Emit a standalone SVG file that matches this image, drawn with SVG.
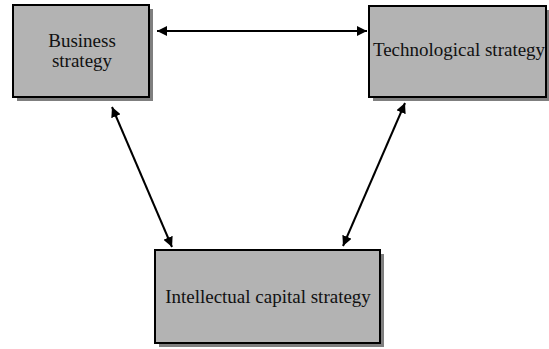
<svg xmlns="http://www.w3.org/2000/svg" width="549" height="349" viewBox="0 0 549 349">
<style>
.shadow{fill:#7f7f7f;stroke:none}
.box{fill:#b3b3b3;stroke:#000;stroke-width:2}
.lbl{font-family:"Liberation Serif","Times New Roman",serif;font-size:19px;fill:#111;text-anchor:middle}
.conn{stroke:#000;stroke-width:2;fill:none;marker-start:url(#ah);marker-end:url(#ah)}
</style>
<defs>
<marker id="ah" viewBox="0 0 10 10" refX="10" refY="5" markerWidth="5" markerHeight="5" orient="auto-start-reverse" markerUnits="strokeWidth">
<path d="M0,0 L10,5 L0,10 z" fill="#000"/>
</marker>
</defs>
<rect width="549" height="349" fill="#fff"/>
<g id="business">
<rect class="shadow" x="17" y="9" width="136" height="92"/>
<rect class="box" x="13" y="5" width="136" height="92"/>
<text class="lbl" x="82" y="47">Business</text>
<text class="lbl" x="82" y="67">strategy</text>
</g>
<g id="technological">
<rect class="shadow" x="373" y="10" width="177" height="91"/>
<rect class="box" x="369" y="6" width="177" height="91"/>
<text class="lbl" x="459" y="56">Technological strategy</text>
</g>
<g id="intellectual">
<rect class="shadow" x="159" y="254" width="225" height="93"/>
<rect class="box" x="155" y="250" width="225" height="93"/>
<text class="lbl" x="268" y="303">Intellectual capital strategy</text>
</g>
<g id="connectors">
<line class="conn" x1="157" y1="31" x2="367" y2="31"/>
<line class="conn" x1="112" y1="107" x2="172" y2="247"/>
<line class="conn" x1="405" y1="103" x2="343" y2="246"/>
</g>
</svg>
